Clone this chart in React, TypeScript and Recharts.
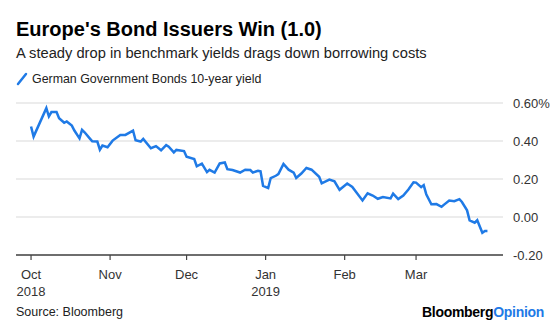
import React from "react";
import { LineChart, Line, XAxis, YAxis, CartesianGrid } from "recharts";

// German Government Bonds 10-year yield, %
const dates = [
  "2018-10-01", "2018-10-02", "2018-10-07", "2018-10-08", "2018-10-09", "2018-10-11", "2018-10-12",
  "2018-10-14", "2018-10-15", "2018-10-17", "2018-10-18", "2018-10-20", "2018-10-21", "2018-10-22",
  "2018-10-24", "2018-10-25", "2018-10-27", "2018-10-28", "2018-10-29", "2018-10-31", "2018-11-02",
  "2018-11-05", "2018-11-07", "2018-11-10", "2018-11-11", "2018-11-13", "2018-11-14", "2018-11-17",
  "2018-11-19", "2018-11-21", "2018-11-23", "2018-11-24", "2018-11-26", "2018-11-27", "2018-11-30",
  "2018-12-01", "2018-12-04", "2018-12-05", "2018-12-07", "2018-12-09", "2018-12-10", "2018-12-12",
  "2018-12-14", "2018-12-16", "2018-12-17", "2018-12-19", "2018-12-22", "2018-12-24", "2018-12-26",
  "2018-12-27", "2018-12-29", "2018-12-30", "2018-12-31", "2019-01-02", "2019-01-03", "2019-01-05",
  "2019-01-06", "2019-01-08", "2019-01-10", "2019-01-12", "2019-01-13", "2019-01-15", "2019-01-17",
  "2019-01-19", "2019-01-22", "2019-01-23", "2019-01-26", "2019-01-28", "2019-01-30", "2019-02-02",
  "2019-02-04", "2019-02-08", "2019-02-10", "2019-02-12", "2019-02-14", "2019-02-16", "2019-02-19",
  "2019-02-20", "2019-02-22", "2019-02-24", "2019-02-26", "2019-02-28", "2019-03-01", "2019-03-03",
  "2019-03-04", "2019-03-05", "2019-03-07", "2019-03-09", "2019-03-11", "2019-03-12", "2019-03-14",
  "2019-03-16", "2019-03-18", "2019-03-19", "2019-03-21", "2019-03-22", "2019-03-24", "2019-03-25",
  "2019-03-27", "2019-03-28", "2019-03-29",
];
const yields = [
  0.476, 0.423, 0.573, 0.529, 0.552, 0.552, 0.52,
  0.496, 0.503, 0.481, 0.455, 0.414, 0.459, 0.446,
  0.414, 0.398, 0.397, 0.354, 0.376, 0.367, 0.402,
  0.432, 0.432, 0.455, 0.404, 0.397, 0.411, 0.362,
  0.373, 0.351, 0.378, 0.37, 0.34, 0.353, 0.347,
  0.317, 0.305, 0.267, 0.281, 0.236, 0.248, 0.234,
  0.282, 0.287, 0.252, 0.247, 0.234, 0.249, 0.247,
  0.234, 0.243, 0.24, 0.164, 0.152, 0.205, 0.217,
  0.226, 0.279, 0.249, 0.234, 0.205, 0.229, 0.258,
  0.249, 0.212, 0.177, 0.197, 0.188, 0.143, 0.176,
  0.158, 0.087, 0.125, 0.113, 0.096, 0.105, 0.098,
  0.123, 0.094, 0.113, 0.145, 0.183, 0.181, 0.157,
  0.168, 0.12, 0.067, 0.068, 0.054, 0.065, 0.087,
  0.083, 0.094, 0.079, 0.035, -0.018, -0.03, -0.017,
  -0.083, -0.074, -0.074,
];

const monthTicks = ["2018-10-01", "2018-11-01", "2018-12-01", "2019-01-01", "2019-02-01", "2019-03-01"];
const monthLabels = ["Oct", "Nov", "Dec", "Jan", "Feb", "Mar"];
const yearLabels = ["2018", "", "", "2019", "", ""];
const yTicks = [-0.2, 0, 0.2, 0.4, 0.6];

const DAY = 86400000;
const toTime = (d: string) => Date.parse(d + "T00:00:00Z");
const data = dates.map((d, i) => ({ t: toTime(d), v: yields[i] }));
const tickTimes = monthTicks.map(toTime);
const xDomain = [toTime("2018-10-01") - 5.9 * DAY, toTime("2018-10-01") + 185.1 * DAY];

const FONT = '"Liberation Sans", Arial, Helvetica, sans-serif';
const BLUE = "#1f7ae6";

function MonthTick(props: any) {
  const { x, y, payload } = props;
  const i = tickTimes.indexOf(payload.value);
  return (
    <g>
      <text x={x} y={y + 17} textAnchor="middle" fontSize={13} fill="#333" fontFamily={FONT}>
        {monthLabels[i]}
      </text>
      {yearLabels[i] && (
        <text x={x} y={y + 34} textAnchor="middle" fontSize={13} fill="#333" fontFamily={FONT}>
          {yearLabels[i]}
        </text>
      )}
    </g>
  );
}

function YieldTick(props: any) {
  const { x, y, payload } = props;
  const v = payload.value as number;
  const label = v.toFixed(2) + (v === 0.6 ? "%" : "");
  return (
    <text x={x} y={y + 5} textAnchor="start" fontSize={13} fill="#333" fontFamily={FONT}>
      {label}
    </text>
  );
}

export default function App() {
  return (
    <div style={{ position: "absolute", left: 0, top: 0, width: 560, height: 325, background: "#fff", fontFamily: FONT }}>
      <div style={{ position: "absolute", left: 16, top: 18, fontSize: 20, fontWeight: 700, color: "#000" }}>
        Europe's Bond Issuers Win (1.0)
      </div>
      <div style={{ position: "absolute", left: 16, top: 45, fontSize: 14.7, color: "#222" }}>
        A steady drop in benchmark yields drags down borrowing costs
      </div>
      <div style={{ position: "absolute", left: 16, top: 72, fontSize: 12.4, color: "#222", display: "flex", alignItems: "center" }}>
        <svg width={12} height={14} style={{ marginRight: 4 }}>
          <line x1={2} y1={12} x2={10} y2={2} stroke={BLUE} strokeWidth={2.5} strokeLinecap="round" />
        </svg>
        German Government Bonds 10-year yield
      </div>

      <div style={{ position: "absolute", left: 0, top: 0 }}>
        <LineChart width={560} height={325} data={data} margin={{ top: 103, right: 0, bottom: 30, left: 16 }}>
          <CartesianGrid vertical={false} stroke="#e6e6e6" strokeWidth={1.5} />
          <XAxis
            dataKey="t"
            type="number"
            domain={xDomain}
            ticks={tickTimes}
            interval={0}
            tick={<MonthTick />}
            axisLine={{ stroke: "#444", strokeWidth: 1.5 }}
            tickLine={{ stroke: "#444", strokeWidth: 1.2 }}
            tickSize={5}
            height={40}
            allowDataOverflow
          />
          <YAxis
            orientation="right"
            domain={[-0.2, 0.6]}
            ticks={yTicks}
            interval={0}
            tick={<YieldTick />}
            axisLine={false}
            tickLine={false}
            tickMargin={4}
            width={57}
          />
          <Line
            type="linear"
            dataKey="v"
            stroke={BLUE}
            strokeWidth={2.5}
            dot={false}
            isAnimationActive={false}
          />
        </LineChart>
      </div>

      <div style={{ position: "absolute", left: 16, top: 305, fontSize: 12.5, color: "#222" }}>
        Source: Bloomberg
      </div>
      <div style={{ position: "absolute", right: 16, top: 304, fontSize: 14, fontWeight: 700, color: "#000", letterSpacing: -0.3 }}>
        Bloomberg<span style={{ color: BLUE }}>Opinion</span>
      </div>
    </div>
  );
}
